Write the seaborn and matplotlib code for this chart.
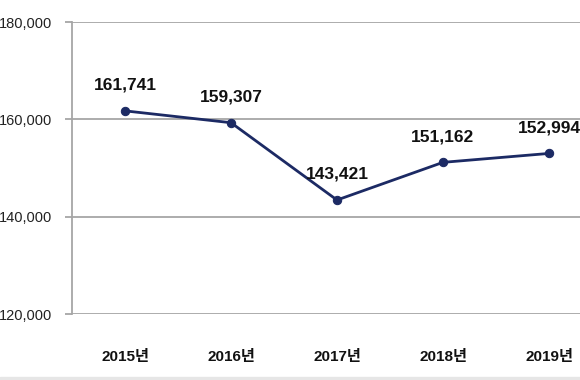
import matplotlib
matplotlib.use("Agg")
import matplotlib.pyplot as plt
import matplotlib.patches as mpatches
import seaborn as sns
import pandas as pd

# chart values
years = ["2015년", "2016년", "2017년", "2018년", "2019년"]
counts = [161741, 159307, 143421, 151162, 152994]
y_ticks = [120000, 140000, 160000, 180000]

sns.set_theme(style="white")
plt.rcParams['font.family'] = ['Liberation Sans', 'Noto Sans CJK KR', 'DejaVu Sans']

df = pd.DataFrame({"year": years, "count": counts})

fig = plt.figure(figsize=(5.8, 3.8), dpi=100)
ax = fig.add_axes([72 / 580, 66 / 380, 530 / 580, 292 / 380])

navy = "#1c2a64"
sns.lineplot(data=df, x="year", y="count", ax=ax, color=navy, linewidth=2,
             marker="o", markersize=6, markeredgecolor=navy, sort=False)

ax.set_xlim(-0.5, 4.5)
ax.set_ylim(120000, 180000)
ax.set_yticks(y_ticks)
ax.set_yticklabels([f"{v:,}" for v in y_ticks], fontsize=10.5, color="#222222")
ax.grid(axis="y", color="#a6a6a6", linewidth=1.3)
ax.grid(axis="x", visible=False)
ax.set_axisbelow(True)
for side in ["top", "right", "bottom"]:
    ax.spines[side].set_visible(False)
ax.spines["left"].set_color("#a6a6a6")
ax.spines["left"].set_linewidth(1.3)
ax.tick_params(axis="y", length=5, width=1.3, color="#a6a6a6", pad=9, left=True)
ax.tick_params(axis="x", length=0, pad=26)
for lbl in ax.get_xticklabels():
    lbl.set_fontsize(11)
    lbl.set_fontweight("bold")
    lbl.set_color("#111111")
ax.set_xlabel("")
ax.set_ylabel("")

# data labels
for i, v in enumerate(counts):
    ax.annotate(f"{v:,}", (i, v), xytext=(0, 13), textcoords="offset points",
                ha="center", va="bottom", fontsize=12.5, fontweight="bold", color="#111111")

# thin light strip along bottom edge
fig.patches.append(mpatches.Rectangle((0, 0), 1, 3 / 380, transform=fig.transFigure,
                                      color="#e6e6e6", zorder=0))

fig.savefig("out.png", dpi=100)
